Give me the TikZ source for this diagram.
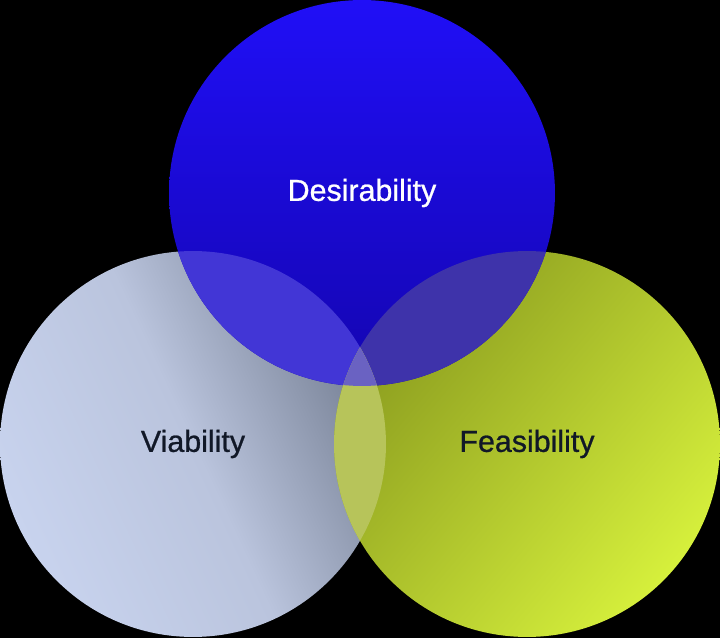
\documentclass[tikz,border=0pt]{standalone}
\usepackage{fontspec}
\setmainfont{Liberation Sans}[FakeBold=0.8]
\usepackage{tikz}
\usetikzlibrary{positioning}

\definecolor{desTop}{HTML}{200FF7}
\definecolor{desBot}{HTML}{1405B0}
\definecolor{viaLight}{HTML}{C8D3EE}
\definecolor{viaMid}{HTML}{BAC4DD}
\definecolor{viaDark}{HTML}{737D91}
\definecolor{feaDark}{HTML}{899A1E}
\definecolor{feaLight}{HTML}{D6F03C}
\definecolor{ovDV}{HTML}{4236D6}
\definecolor{ovDF}{HTML}{3E33AA}
\definecolor{ovVF}{HTML}{B7C45A}
\definecolor{ovAll}{HTML}{6A62C2}
\definecolor{inkDark}{HTML}{111827}

\begin{document}
\begin{tikzpicture}[x=0.02cm,y=-0.02cm,
	set/.style={circle,minimum size=7.72cm,inner sep=0pt,font=\fontsize{17.3}{20}\selectfont},
	lens/.style={fill=#1}]
\fill[black] (0,0) rectangle (720,638);
\coordinate (cd) at (362,193);
\coordinate (cv) at (193,444);
\coordinate (cf) at (527,444);

\node [set,top color=viaDark,bottom color=viaLight,middle color=viaMid,shading angle=-65,text=inkDark] (v) at (cv) {Viability};
\node [set,top color=feaDark,bottom color=feaLight,shading angle=50,text=inkDark] (f) at (cf) {Feasibility};
\node [set,top color=desTop,bottom color=desBot,text=white] (d) at (cd) {Desirability};

% overlaps
\begin{scope}
	\clip (cd) circle (3.86cm);
	\fill[lens=ovDV] (cv) circle (3.86cm);
	\fill[lens=ovDF] (cf) circle (3.86cm);
\end{scope}
\begin{scope}
	\clip (cv) circle (3.86cm);
	\fill[lens=ovVF] (cf) circle (3.86cm);
	\clip (cf) circle (3.86cm);
	\fill[lens=ovAll] (cd) circle (3.86cm);
\end{scope}
\end{tikzpicture}
\end{document}
